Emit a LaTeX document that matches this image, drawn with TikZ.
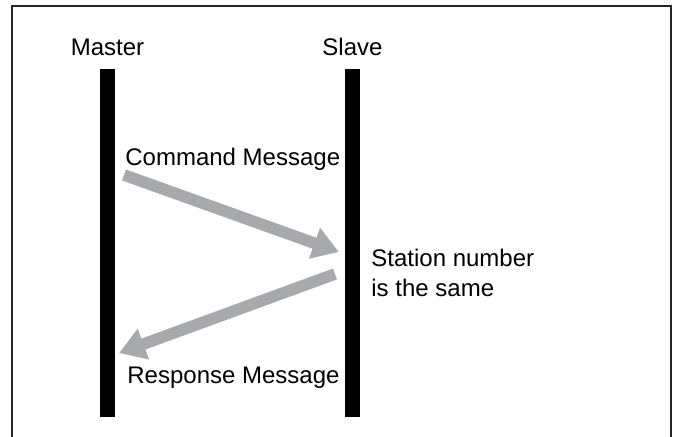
\documentclass[tikz,border=0pt]{standalone}
\usepackage{fontspec}
\setmainfont{Liberation Sans}
\usepackage{tikz}
\usetikzlibrary{arrows.meta,positioning}
\definecolor{msggray}{HTML}{A7A9AC}

\begin{document}
\begin{tikzpicture}[
  x=0.5pt, y=-0.5pt,
  lifeline/.style={fill=black, draw=none, inner sep=0pt,
    minimum width=7.5pt, minimum height=174pt},
  msg/.style={-{Triangle[length=13pt,width=15.5pt]}, line width=5.8pt, msggray},
  frame/.style={line width=1pt, black!85},
  every node/.style={font=\fontsize{12}{15}\selectfont, inner sep=0pt}]

\useasboundingbox (0,0) rectangle (678,437);

% ---- open frame, cut by the page at the bottom ---------------------------
\draw[frame] (11.5,437) -- (11.5,6) -- (671,6) -- (671,437);

% ---- the two stations ----------------------------------------------------
\node[lifeline] (master) at (107.5,243) {};
\node[lifeline] (slave)  at (352.5,243) {};
\node[anchor=base] (master-lbl) at (107.5,56) {Master};
\node[anchor=base] (slave-lbl)  at (352.5,56) {Slave};

% ---- the exchange --------------------------------------------------------
\coordinate (cmd-from) at (124,175);
\coordinate (cmd-to)   at (339,252);
\coordinate (rsp-from) at (335,274);
\coordinate (rsp-to)   at (119,353);
\draw[msg] (cmd-from) -- (cmd-to);
\draw[msg] (rsp-from) -- (rsp-to);

\node[anchor=base west] (cmd-lbl) at (125,166) {Command Message};
\node[anchor=base west] (rsp-lbl) at (127,383) {Response Message};
% base of a two-line node is the baseline of its last line
\node[anchor=base west, align=left] (stn-lbl) at (371,297)
  {Station number\\is the same};

\end{tikzpicture}
\end{document}
